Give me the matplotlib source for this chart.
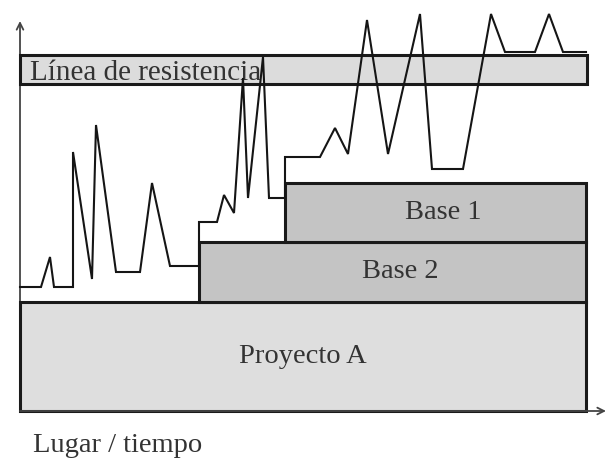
import matplotlib.pyplot as plt
from matplotlib.patches import Rectangle

# units: x from the vertical axis, y up from the horizontal axis
path_x = [0, 21, 30, 34, 53, 53, 72, 76, 96, 120, 132, 150, 179, 179, 197, 204,
          214, 223, 228, 243, 249, 265, 265, 300, 315, 328, 347, 368, 400, 412,
          443, 471, 485, 515, 529, 543, 566]
path_y = [124, 124, 154, 124, 124, 259, 132, 286, 139, 139, 228, 145, 145, 189,
          189, 216, 198, 333, 213, 354, 213, 213, 254, 254, 283, 257, 391, 257,
          397, 242, 242, 397, 359, 359, 397, 359, 359]

block_names = ["Proyecto A", "Base 2", "Base 1"]
block_x0 = [0, 179, 265]
block_x1 = [566, 566, 566]
block_y0 = [0, 109, 169]
block_y1 = [109, 169, 228]
block_colors = ["#dedede", "#c4c4c4", "#c4c4c4"]

band_label = "Línea de resistencia"
band_x = (0, 567)
band_y = (327, 356)

axis_label = "Lugar / tiempo"

text_color = "#333333"
font = ["Liberation Serif", "DejaVu Serif"]

fig = plt.figure(figsize=(6.07, 4.62), dpi=100)
ax = fig.add_axes([0, 0, 1, 1])
ax.set_xlim(-20, 587)
ax.set_ylim(-51, 411)
ax.axis("off")

for name, x0, x1, y0, y1, c in zip(block_names, block_x0, block_x1,
                                    block_y0, block_y1, block_colors):
    ax.add_patch(Rectangle((x0, y0), x1 - x0, y1 - y0, facecolor=c,
                           edgecolor="#1a1a1a", linewidth=2.2, zorder=2))
    ax.text((x0 + x1) / 2 + (8 if name != "Proyecto A" else 0), (y0 + y1) / 2,
            name, ha="center", va="center", fontsize=20.5, family=font,
            color=text_color, zorder=3)

ax.add_patch(Rectangle((band_x[0], band_y[0]), band_x[1] - band_x[0],
                       band_y[1] - band_y[0], facecolor="#dcdcdc",
                       edgecolor="#1a1a1a", linewidth=2.2, zorder=2))
ax.text(band_x[0] + 10, (band_y[0] + band_y[1]) / 2 - 3, band_label,
        ha="left", va="center", fontsize=21, family=font, color=text_color,
        zorder=3)

ax.plot(path_x, path_y, color="#151515", linewidth=1.5, zorder=4,
        solid_joinstyle="miter")

# axes with arrow heads
arrow = dict(arrowstyle="->", color="#444444", linewidth=1.3,
             mutation_scale=12, shrinkA=0, shrinkB=0)
ax.annotate("", xy=(0, 390), xytext=(0, -1), arrowprops=arrow, zorder=1)
ax.annotate("", xy=(586, 0), xytext=(0, 0), arrowprops=arrow, zorder=5)

ax.text(13, -34, axis_label, ha="left", va="center", fontsize=20.5,
        family=font, color=text_color)

fig.savefig("out.png", dpi=100)
